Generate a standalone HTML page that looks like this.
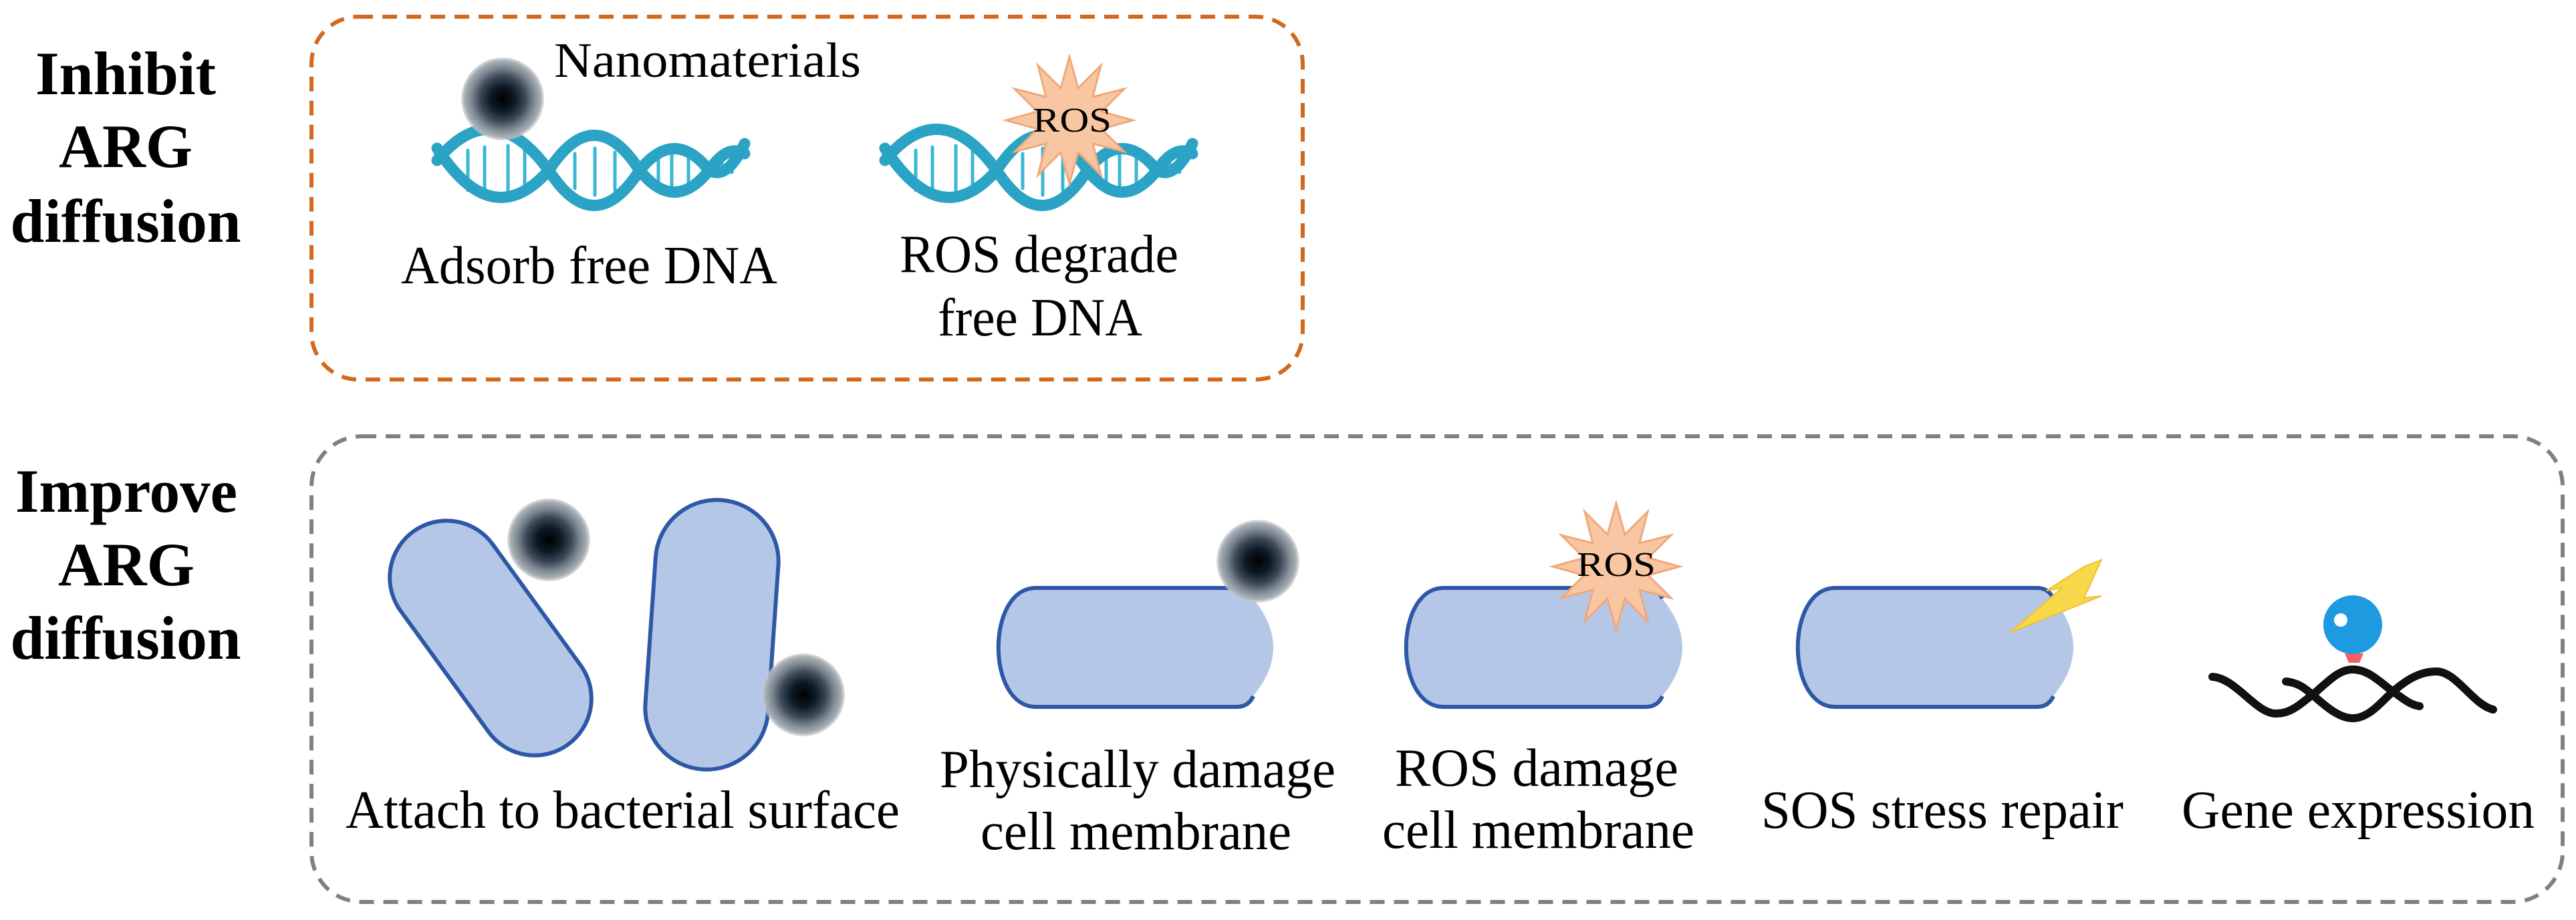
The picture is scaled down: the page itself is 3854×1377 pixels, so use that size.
<!DOCTYPE html>
<html><head><meta charset="utf-8"><style>
html,body{margin:0;padding:0;background:#fff;}
svg{display:block;}
svg text{font-family:"Liberation Serif","DejaVu Serif",serif !important;}
</style></head><body>
<svg width="3854" height="1377" viewBox="0 0 3854 1377" xmlns="http://www.w3.org/2000/svg" style="font-family:'Liberation Serif',serif">
<defs>
<radialGradient id="np" cx="0.5" cy="0.5" r="0.5">
<stop offset="0" stop-color="#000"/>
<stop offset="0.3" stop-color="#0e1a26"/>
<stop offset="0.55" stop-color="#3c4a58"/>
<stop offset="0.75" stop-color="#7d8790"/>
<stop offset="0.92" stop-color="#a8afb5"/>
<stop offset="1" stop-color="#c8ccd0" stop-opacity="0.6"/>
</radialGradient>
</defs>

<rect x="466" y="25" width="1483" height="543" rx="70" fill="none" stroke="#d2691e" stroke-width="6" stroke-dasharray="22 14"/>
<rect x="466" y="653" width="3368" height="697" rx="75" fill="none" stroke="#808080" stroke-width="6" stroke-dasharray="22 14"/>

<g style="font-family:'Liberation Serif',serif;font-weight:bold" font-size="92" text-anchor="middle" fill="#000">
<text x="188" y="141" textLength="270" lengthAdjust="spacingAndGlyphs">Inhibit</text>
<text x="188" y="250" textLength="200" lengthAdjust="spacingAndGlyphs">ARG</text>
<text x="188" y="362" textLength="345" lengthAdjust="spacingAndGlyphs">diffusion</text>
<text x="189" y="766" textLength="332" lengthAdjust="spacingAndGlyphs">Improve</text>
<text x="189" y="876" textLength="204" lengthAdjust="spacingAndGlyphs">ARG</text>
<text x="188" y="986" textLength="345" lengthAdjust="spacingAndGlyphs">diffusion</text>
</g>

<g id="dna1" fill="none" stroke-linecap="round">
<g stroke="#3ab6d6" stroke-width="5">
<line x1="700" y1="225" x2="700" y2="285"/><line x1="725" y1="220" x2="725" y2="290"/><line x1="760" y1="218" x2="760" y2="292"/><line x1="785" y1="225" x2="785" y2="285"/>
<line x1="860" y1="230" x2="860" y2="282"/><line x1="890" y1="222" x2="890" y2="292"/><line x1="920" y1="228" x2="920" y2="285"/>
<line x1="985" y1="230" x2="985" y2="282"/><line x1="1005" y1="225" x2="1005" y2="285"/><line x1="1030" y1="230" x2="1030" y2="280"/>
<line x1="1080" y1="240" x2="1080" y2="262"/><line x1="1095" y1="236" x2="1095" y2="258"/>
</g>
<path d="M654 240 Q737 140 821 255 Q889 360 957 255 Q1009 190 1061 255 Q1088 270 1114 215" stroke="#2ba3c4" stroke-width="17"/>
<path d="M654 222 Q737 350 821 255 Q889 150 957 255 Q1009 320 1061 255 Q1088 215 1114 230" stroke="#2ba3c4" stroke-width="17"/>
</g>
<use href="#dna1" transform="translate(670,0)"/>

<circle cx="752" cy="148" r="62" fill="url(#np)"/>
<text x="829" y="115" font-size="74" textLength="459" lengthAdjust="spacingAndGlyphs">Nanomaterials</text>

<polygon transform="translate(1600,180)" fill="#f9c6a4" stroke="#f0a878" stroke-width="3" points="0,-95 13,-48 47,-82 35,-35 82,-47 48,-13 95,0 48,13 82,47 35,35 47,82 13,48 0,95 -13,48 -47,82 -35,35 -82,47 -48,13 -95,0 -48,-13 -82,-47 -35,-35 -47,-82 -13,-48"/>
<text x="1604" y="197" font-size="52" text-anchor="middle" textLength="118" lengthAdjust="spacingAndGlyphs">ROS</text>

<g font-size="80">
<text x="600" y="424" textLength="563" lengthAdjust="spacingAndGlyphs">Adsorb free DNA</text>
<text x="1346" y="407" textLength="417" lengthAdjust="spacingAndGlyphs">ROS degrade</text>
<text x="1403" y="502" textLength="306" lengthAdjust="spacingAndGlyphs">free DNA</text>
</g>

<rect x="-85" y="-197" width="170" height="394" rx="85" transform="translate(734,955) rotate(-36)" fill="#b4c7e7" stroke="#2e58a6" stroke-width="6"/>
<rect x="-92" y="-202" width="184" height="404" rx="92" transform="translate(1065,950) rotate(4)" fill="#b4c7e7" stroke="#2e58a6" stroke-width="6"/>
<circle cx="821" cy="808" r="62" fill="url(#np)"/>
<circle cx="1202" cy="1040" r="62" fill="url(#np)"/>

<g fill="#b4c7e7">
<path d="M1550 880 H1860 Q1950 969 1860 1058 H1550 C1475 1058 1475 880 1550 880 Z"/>
<path d="M2160 880 H2472 Q2562 969 2472 1058 H2160 C2085 1058 2085 880 2160 880 Z"/>
<path d="M2746 880 H3057 Q3147 969 3057 1058 H2746 C2671 1058 2671 880 2746 880 Z"/>
</g>
<g fill="none" stroke="#2e58a6" stroke-width="6">
<path d="M1875 896 Q1868 880 1850 880 H1550 C1475 880 1475 1058 1550 1058 H1850 Q1868 1058 1875 1042"/>
<path d="M2487 896 Q2480 880 2462 880 H2160 C2085 880 2085 1058 2160 1058 H2462 Q2480 1058 2487 1042"/>
<path d="M3072 896 Q3065 880 3047 880 H2746 C2671 880 2671 1058 2746 1058 H3047 Q3065 1058 3072 1042"/>
</g>
<circle cx="1882" cy="840" r="62" fill="url(#np)"/>

<polygon transform="translate(2418,848)" fill="#f9c6a4" stroke="#f0a878" stroke-width="3" points="0,-95 13,-48 47,-82 35,-35 82,-47 48,-13 95,0 48,13 82,47 35,35 47,82 13,48 0,95 -13,48 -47,82 -35,35 -82,47 -48,13 -95,0 -48,-13 -82,-47 -35,-35 -47,-82 -13,-48"/>
<text x="2418" y="862" font-size="52" text-anchor="middle" textLength="118" lengthAdjust="spacingAndGlyphs">ROS</text>

<polygon points="3144,838 3118,895 3144,892 3007,947 3085,880 3062,884 3118,848" fill="#f7d84a" stroke="#f0c030" stroke-width="2"/>

<path d="M3508 978 L3536 978 L3530 992 L3514 992 Z" fill="#f06060"/>
<circle cx="3520" cy="935" r="44" fill="#1e9be0"/>
<circle cx="3502" cy="928" r="10" fill="#fff"/>
<g fill="none" stroke="#111" stroke-width="12" stroke-linecap="round">
<path d="M3310 1013 C3345 1015 3375 1068 3405 1068 C3430 1068 3445 1050 3460 1040 C3485 1018 3500 1002 3520 1002 C3545 1002 3565 1025 3580 1035 C3595 1045 3605 1055 3620 1057"/>
<path d="M3420 1020 C3440 1022 3450 1032 3460 1040 C3480 1058 3500 1075 3520 1075 C3545 1075 3565 1048 3580 1035 C3600 1018 3620 1005 3645 1005 C3675 1005 3700 1055 3730 1062"/>
</g>

<g font-size="80">
<text x="517" y="1239" textLength="829" lengthAdjust="spacingAndGlyphs">Attach to bacterial surface</text>
<text x="1406" y="1178" textLength="592" lengthAdjust="spacingAndGlyphs">Physically damage</text>
<text x="1467" y="1271" textLength="465" lengthAdjust="spacingAndGlyphs">cell membrane</text>
<text x="2087" y="1176" textLength="424" lengthAdjust="spacingAndGlyphs">ROS damage</text>
<text x="2068" y="1269" textLength="467" lengthAdjust="spacingAndGlyphs">cell membrane</text>
<text x="2635" y="1239" textLength="542" lengthAdjust="spacingAndGlyphs">SOS stress repair</text>
<text x="3264" y="1239" textLength="528" lengthAdjust="spacingAndGlyphs">Gene expression</text>
</g>
</svg>
</body></html>
